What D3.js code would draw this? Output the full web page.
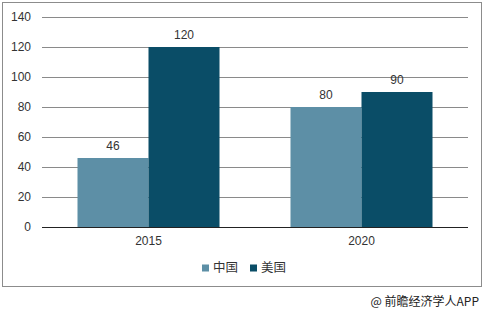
<!DOCTYPE html>
<html><head><meta charset="utf-8">
<script src="https://cdn.jsdelivr.net/npm/d3@7"></script>
<style>
body{margin:0;background:#fff;}
text{font-family:"Liberation Sans",Arial,"Noto Sans CJK SC",sans-serif;fill:#333;}
</style></head>
<body><svg id="c" width="486" height="314"></svg>
<script>
const categories = ["2015", "2020"];
const seriesNames = ["中国", "美国"];
const chinaValues = [46, 80];
const usaValues = [120, 90];
const yTicks = [0, 20, 40, 60, 80, 100, 120, 140];
const colors = ["#5d8fa6", "#0a4d67"];

(function(){
const svg = d3.select("#c");
const pL = 42, pR = 468, pT = 17, pB = 227;

svg.append("rect").attr("x",2.5).attr("y",2.5).attr("width",479).attr("height",284)
  .attr("fill","none").attr("stroke","#8c8c8c").attr("stroke-width",1);

const y = d3.scaleLinear().domain([0,140]).range([pB, pT]);
const x0 = d3.scaleBand().domain(categories).range([pL, pR]).paddingInner(1/3).paddingOuter(1/6);
const x1 = d3.scaleBand().domain(seriesNames).range([0, x0.bandwidth()]);

// gridlines
svg.append("g").selectAll("line").data(yTicks.filter(d=>d>0)).join("line")
  .attr("x1",pL).attr("x2",pR)
  .attr("y1",d=>Math.round(y(d))+0.5).attr("y2",d=>Math.round(y(d))+0.5)
  .attr("stroke","#8a8a8a").attr("stroke-width",1);

// y labels
svg.append("g").selectAll("text").data(yTicks).join("text")
  .attr("x",31).attr("y",d=>y(d)).attr("dy","0.35em").attr("text-anchor","end")
  .attr("font-size",12).text(d=>d);

const data = categories.map((c,i)=>({cat:c, vals:[chinaValues[i], usaValues[i]]}));
const groups = svg.append("g").selectAll("g").data(data).join("g")
  .attr("transform",d=>`translate(${x0(d.cat)},0)`);
groups.selectAll("rect").data(d=>d.vals.map((v,j)=>({v, s:seriesNames[j], j}))).join("rect")
  .attr("x",d=>x1(d.s)).attr("width",x1.bandwidth())
  .attr("y",d=>y(d.v)).attr("height",d=>pB-y(d.v))
  .attr("fill",d=>colors[d.j]);
groups.selectAll("text").data(d=>d.vals.map((v,j)=>({v, s:seriesNames[j], j}))).join("text")
  .attr("x",d=>x1(d.s)+x1.bandwidth()/2).attr("y",d=>y(d.v)-8)
  .attr("text-anchor","middle").attr("font-size",12).text(d=>d.v);

// baseline
svg.append("line").attr("x1",pL).attr("x2",pR).attr("y1",pB+0.5).attr("y2",pB+0.5)
  .attr("stroke","#222").attr("stroke-width",1);

// category labels
svg.append("g").selectAll("text").data(categories).join("text")
  .attr("x",d=>x0(d)+x0.bandwidth()/2).attr("y",241).attr("dy","0.35em")
  .attr("text-anchor","middle").attr("font-size",12).text(d=>d);

// legend
const legX = [202, 250];
const leg = svg.append("g").selectAll("g").data(seriesNames).join("g")
  .attr("transform",(d,i)=>`translate(${legX[i]},268)`);
leg.append("rect").attr("x",0).attr("y",-3.5).attr("width",7).attr("height",7).attr("fill",(d,i)=>colors[i]);
leg.append("text").attr("x",11).attr("y",0).attr("dy","0.35em").attr("font-size",12.5)
  .style("font-family","'Noto Sans CJK SC',sans-serif").text(d=>d);

// footer
svg.append("text").attr("x",479).attr("y",302).attr("dy","0.35em").attr("text-anchor","end")
  .attr("font-size",12).style("font-family","'Noto Sans CJK SC',sans-serif").style("fill","#222")
  .text("@ 前瞻经济学人APP");
})();
</script></body></html>
